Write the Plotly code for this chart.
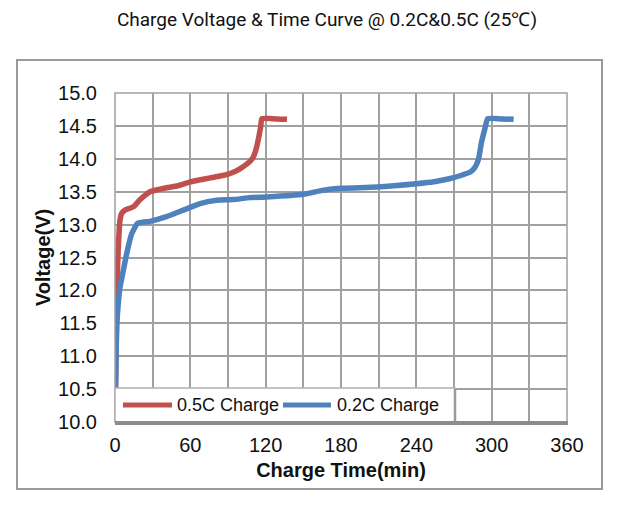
import plotly.graph_objects as go

# 0.5C charge curve (time in min, voltage in V)
t_05 = [0, 0.8, 1.5, 2.5, 4, 5.3, 8, 14.6, 20, 27.9, 41, 50, 60, 75.7, 89, 96, 102, 107, 110, 112, 114, 116, 117, 125, 137]
v_05 = [10.0, 11.0, 12.0, 12.6, 13.07, 13.17, 13.22, 13.27, 13.38, 13.50, 13.56, 13.59, 13.65, 13.71, 13.76, 13.81, 13.88, 13.95, 14.02, 14.12, 14.28, 14.48, 14.61, 14.61, 14.60]

# 0.2C charge curve
t_02 = [0, 0.8, 1.5, 2.6, 4, 6.6, 9.3, 13.3, 18, 27.9, 41, 54.5, 67.7, 81, 94, 107.6, 121, 150, 165, 176.7, 208.6, 240, 254, 267, 276, 283, 287, 289.6, 292, 294.5, 296.8, 305, 317.5]
v_02 = [10.0, 11.0, 11.5, 11.8, 12.05, 12.30, 12.56, 12.86, 13.02, 13.05, 13.12, 13.22, 13.32, 13.37, 13.38, 13.41, 13.42, 13.46, 13.52, 13.55, 13.57, 13.62, 13.65, 13.70, 13.75, 13.80, 13.88, 14.0, 14.26, 14.45, 14.61, 14.61, 14.60]

x_ticks = [0, 60, 120, 180, 240, 300, 360]
y_ticks = [10.0, 10.5, 11.0, 11.5, 12.0, 12.5, 13.0, 13.5, 14.0, 14.5, 15.0]
series_names = ["0.5C Charge", "0.2C Charge"]

RED = "#C0504D"
BLUE = "#4F81BD"
GRID = "#a0a0a0"
colors = [RED, BLUE]

fig = go.Figure()
fig.add_trace(go.Scatter(x=t_05, y=v_05, mode="lines", name=series_names[0], showlegend=False,
                         line=dict(color=RED, width=5.5, shape="spline", smoothing=0.4)))
fig.add_trace(go.Scatter(x=t_02, y=v_02, mode="lines", name=series_names[1], showlegend=False,
                         line=dict(color=BLUE, width=5.5, shape="spline", smoothing=0.4)))

ARIAL = "Liberation Sans, Arial"
font_ax = dict(family=ARIAL, size=20, color="#111")

# plot area in pixels: left 115, right 567, top 93, bottom 422
PL, PR, PT, PB = 115, 567, 93, 422
W, H = 622, 508


def px(x):
    return (x - PL) / (PR - PL)


def py(y):
    return (PB - y) / (PB - PT)


fig.update_layout(
    width=W, height=H,
    margin=dict(l=PL, r=W - PR, t=PT, b=H - PB),
    paper_bgcolor="white", plot_bgcolor="white",
    showlegend=False,
    title=dict(text="Charge Voltage & Time Curve @ 0.2C&0.5C (25℃)",
               x=327 / W, xanchor="center", xref="paper" if False else "container",
               y=1 - 19 / H, yanchor="middle",
               font=dict(family="Roboto", size=19, color="#111")),
    xaxis=dict(range=[0, 360], tickvals=x_ticks, ticktext=[str(v) for v in x_ticks],
               showgrid=True, gridcolor=GRID, gridwidth=1.8,
               minor=dict(dtick=30, tick0=0, showgrid=True, gridcolor=GRID, gridwidth=1.8),
               zeroline=False, showline=False,
               ticks="outside", ticklen=5, tickcolor="rgba(0,0,0,0)",
               tickfont=font_ax,
               title=dict(text="<b>Charge Time(min)</b>", font=dict(family=ARIAL, size=20, color="#111"), standoff=7)),
    yaxis=dict(range=[10, 15], tickvals=y_ticks, ticktext=[f"{v:.1f}" for v in y_ticks],
               showgrid=True, gridcolor=GRID, gridwidth=1.8,
               zeroline=False, showline=False,
               ticks="outside", ticklen=13, tickcolor="rgba(0,0,0,0)",
               tickfont=font_ax,
               title=dict(text="<b>Voltage(V)</b>", font=dict(family=ARIAL, size=20, color="#111"), standoff=2)),
)

shapes = []
# outer frame
shapes.append(dict(type="rect", xref="paper", yref="paper",
                   x0=px(17), x1=px(602), y0=py(489), y1=py(60),
                   line=dict(color="#9a9a9a", width=2), layer="below"))
# plot area border
shapes.append(dict(type="rect", xref="paper", yref="paper", x0=0, x1=1, y0=0, y1=1,
                   line=dict(color="#a0a0a0", width=1.5), layer="above"))
# thicker bottom shadow
shapes.append(dict(type="line", xref="paper", yref="paper", x0=0, x1=px(PR + 1), y0=py(PB + 1), y1=py(PB + 1),
                   line=dict(color="#8c8c8c", width=4), layer="above"))
# legend box (drawn manually to match line-sample length)
shapes.append(dict(type="rect", xref="paper", yref="paper", x0=0, x1=px(455), y0=py(PB), y1=py(388),
                   fillcolor="white", line=dict(color="#b0b0b0", width=1.5), layer="above"))
shapes.append(dict(type="line", xref="paper", yref="paper", x0=px(455), x1=px(455), y0=py(PB), y1=py(389),
                   line=dict(color="#9a9a9a", width=2.5), layer="above"))
shapes.append(dict(type="line", xref="paper", yref="paper", x0=0, x1=px(456), y0=py(PB + 1), y1=py(PB + 1),
                   line=dict(color="#8c8c8c", width=4), layer="above"))
legend_items = [(123, 172, 175), (283, 331, 335)]
annotations = []
for (lx0, lx1, tx), name, col in zip(legend_items, series_names, colors):
    shapes.append(dict(type="line", xref="paper", yref="paper", x0=px(lx0), x1=px(lx1), y0=py(405), y1=py(405),
                       line=dict(color=col, width=5), layer="above"))
    annotations.append(dict(text=name, xref="paper", yref="paper", x=px(tx), y=py(405),
                            xanchor="left", yanchor="middle", showarrow=False,
                            font=dict(family=ARIAL, size=18, color="#111")))
fig.update_layout(shapes=shapes, annotations=annotations)

fig.write_html("out.html")
